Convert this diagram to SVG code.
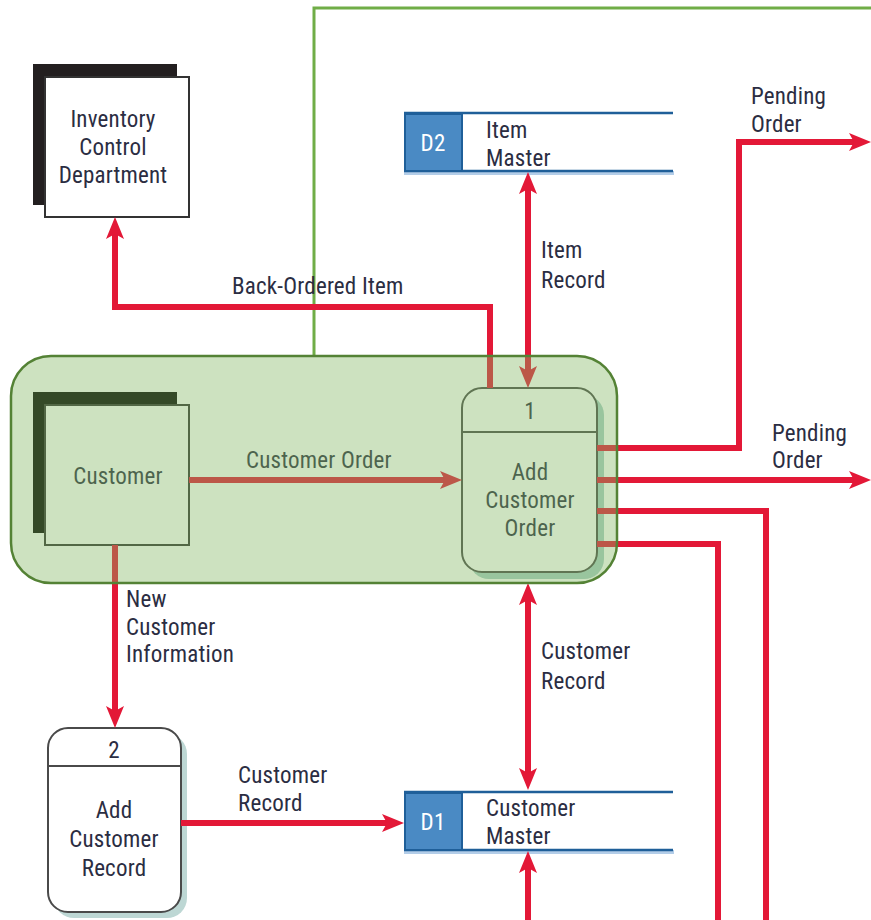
<svg xmlns="http://www.w3.org/2000/svg" width="871" height="920" viewBox="0 0 871 920">
<style>
text{font-family:"Liberation Sans Narrow","Roboto Condensed","Liberation Sans",Arial,sans-serif;font-size:23px;letter-spacing:0.2px;fill:#2b2d42}
.c{text-anchor:middle}
.flow{fill:none;stroke:#e31837;stroke-width:6}
.ent{fill:#fff;stroke:#333;stroke-width:2}
.proc{fill:#fff;stroke:#4a4a4a;stroke-width:2}
.dsid{fill:#4a8ac4;stroke:#1f5f99;stroke-width:2}
.dsl{stroke:#1f5f99;stroke-width:2.5}
</style>
<defs>
<marker id="ah" markerUnits="userSpaceOnUse" markerWidth="24" markerHeight="22" refX="12" refY="11" orient="auto-start-reverse">
<path d="M0,2 L22,11 L0,20 L5,11 Z" fill="#e31837"/>
</marker>
</defs>
<polyline points="314,355 314,8 871,8" fill="none" stroke="#70ad47" stroke-width="3"/>
<g id="inventory">
<rect x="33" y="64" width="144" height="141" fill="#231f20"/>
<rect class="ent" x="45" y="77" width="144" height="140"/>
<text class="c" x="113" y="127">Inventory</text>
<text class="c" x="113" y="155">Control</text>
<text class="c" x="113" y="183">Department</text>
</g>
<g id="d2">
<rect x="404" y="171" width="270" height="4" fill="#b3cde8"/>
<line class="dsl" x1="404" y1="113" x2="673" y2="113"/>
<line class="dsl" x1="404" y1="171" x2="673" y2="171"/>
<rect class="dsid" x="405" y="114" width="57" height="57"/>
<text class="c" x="433" y="151" style="fill:#fff">D2</text>
<text x="486" y="138">Item</text>
<text x="486" y="166">Master</text>
</g>
<g id="d1">
<rect x="404" y="850" width="270" height="4" fill="#b3cde8"/>
<line class="dsl" x1="404" y1="792" x2="673" y2="792"/>
<line class="dsl" x1="404" y1="850" x2="673" y2="850"/>
<rect class="dsid" x="405" y="793" width="57" height="57"/>
<text class="c" x="433" y="830" style="fill:#fff">D1</text>
<text x="486" y="816">Customer</text>
<text x="486" y="844">Master</text>
</g>
<g id="customer">
<rect x="33" y="392" width="144" height="141" fill="#000"/>
<rect class="ent" x="45" y="405" width="144" height="140"/>
<text class="c" x="118" y="484">Customer</text>
</g>
<g id="proc1">
<rect x="469" y="395" width="135" height="184" rx="20" fill="#a9cfc6"/>
<rect class="proc" x="462" y="388" width="135" height="184" rx="20"/>
<line x1="462" y1="432" x2="597" y2="432" stroke="#4a4a4a" stroke-width="2"/>
<text class="c" x="530" y="419">1</text>
<text class="c" x="530" y="480">Add</text>
<text class="c" x="530" y="508">Customer</text>
<text class="c" x="530" y="536">Order</text>
</g>
<g id="proc2">
<rect x="54" y="734" width="133" height="184" rx="20" fill="#bdd7d4"/>
<rect class="proc" x="48" y="728" width="133" height="184" rx="20"/>
<line x1="48" y1="766" x2="181" y2="766" stroke="#4a4a4a" stroke-width="2"/>
<text class="c" x="114" y="758">2</text>
<text class="c" x="114" y="818">Add</text>
<text class="c" x="114" y="847">Customer</text>
<text class="c" x="114" y="876">Record</text>
</g>
<g id="connectors">
<line class="flow" x1="189" y1="480" x2="452" y2="480" marker-end="url(#ah)"/>
<polyline class="flow" points="490,388 490,307 115,307 115,227" marker-end="url(#ah)"/>
<line class="flow" x1="528" y1="182" x2="528" y2="378" marker-start="url(#ah)" marker-end="url(#ah)"/>
<polyline class="flow" points="597,448 739,448 739,142 861,142" marker-end="url(#ah)"/>
<line class="flow" x1="597" y1="480" x2="861" y2="480" marker-end="url(#ah)"/>
<polyline class="flow" points="597,511 766,511 766,920"/>
<polyline class="flow" points="597,544 718,544 718,920"/>
<line class="flow" x1="528" y1="593" x2="528" y2="780" marker-start="url(#ah)" marker-end="url(#ah)"/>
<line class="flow" x1="528" y1="920" x2="528" y2="861" marker-end="url(#ah)"/>
<line class="flow" x1="115" y1="545" x2="115" y2="718" marker-end="url(#ah)"/>
<line class="flow" x1="181" y1="823" x2="394" y2="823" marker-end="url(#ah)"/>
<text x="232" y="294">Back-Ordered Item</text>
<text x="246" y="468">Customer Order</text>
<text x="541" y="258">Item</text>
<text x="541" y="288">Record</text>
<text x="751" y="104">Pending</text>
<text x="751" y="132">Order</text>
<text x="772" y="441">Pending</text>
<text x="772" y="468">Order</text>
<text x="541" y="659">Customer</text>
<text x="541" y="689">Record</text>
<text x="126" y="607">New</text>
<text x="126" y="635">Customer</text>
<text x="126" y="662">Information</text>
<text x="238" y="783">Customer</text>
<text x="238" y="811">Record</text>
</g>
<g id="boundary">
<rect x="11" y="356" width="606" height="227" rx="40" fill="#82b661" fill-opacity="0.4" stroke="#548235" stroke-width="2.5"/>
</g>
</svg>
